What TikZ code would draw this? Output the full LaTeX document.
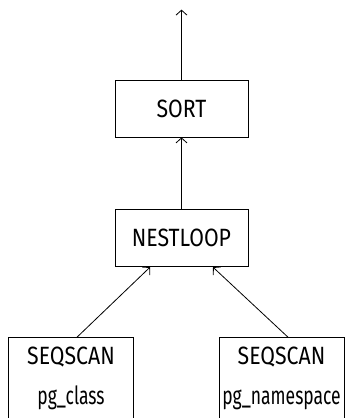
\documentclass[tikz,border=0pt]{standalone}
\usepackage{fontspec}
\setmainfont[FakeStretch=0.85]{Fira Sans}
\newfontfamily\relfont[FakeStretch=0.7]{Fira Sans}
\usepackage{tikz}
\usetikzlibrary{arrows.meta,positioning}

\begin{document}
\begin{tikzpicture}[
    node distance=72pt,
    op/.style={rectangle, draw, line width=0.8pt, minimum width=133pt, minimum height=57pt, font=\fontsize{25}{30}\selectfont},
    scanbox/.style={rectangle, draw, line width=0.8pt, anchor=north, align=center, minimum width=125pt, inner xsep=1pt, inner ysep=9pt, font=\fontsize{25}{30}\selectfont},
    arrow/.style={-{Straight Barb[length=5pt,width=11pt,line width=0.8pt]}, line width=0.8pt}
]
\path[use as bounding box, clip] (0pt,0pt) rectangle (358pt,-418pt);

\node[op] (sort) at (181.5pt,-108.5pt) {SORT};
\node[op, below=72pt of sort] (nestloop) {NESTLOOP};
\coordinate[above=70pt of sort] (result);
\node[scanbox, below=70pt of nestloop, xshift=-110.5pt] (scanclass) {SEQSCAN\\[10pt]{\relfont pg\_class}\rule[-40pt]{0pt}{0pt}};
\node[scanbox, below=70pt of nestloop, xshift=100pt] (scannsp) {SEQSCAN\\[10pt]{\relfont pg\_namespace}\rule[-40pt]{0pt}{0pt}};

\draw[arrow] (sort) -- (result);
\draw[arrow] (nestloop) -- (sort);
\draw[arrow] ([xshift=6pt]scanclass.north) -- ([xshift=-31.5pt]nestloop.south);
\draw[arrow] ([xshift=6.5pt]scannsp.north) -- ([xshift=31.5pt]nestloop.south);
\end{tikzpicture}
\end{document}
